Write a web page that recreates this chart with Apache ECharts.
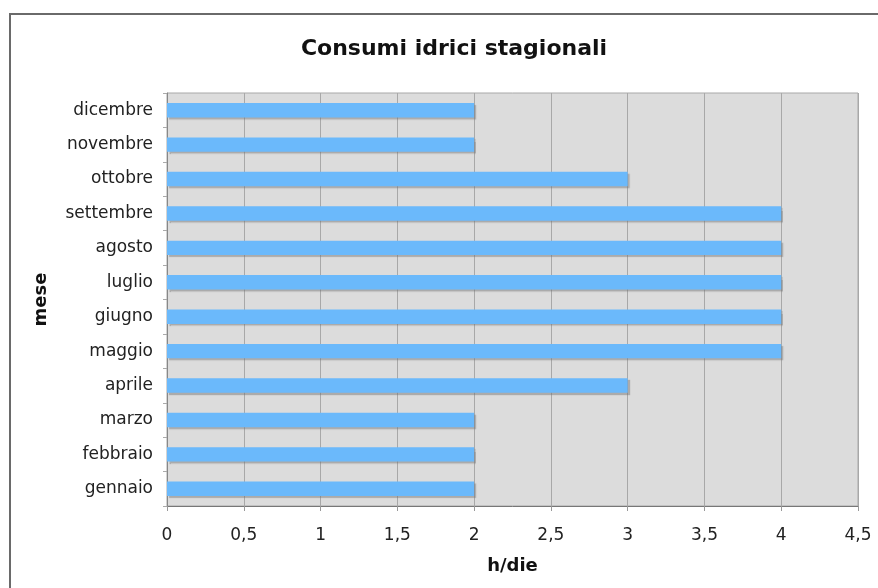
<!DOCTYPE html>
<html>
<head>
<meta charset="utf-8">
<script src="https://cdn.jsdelivr.net/npm/echarts@6/dist/echarts.min.js"></script>
<style>
  html, body { margin: 0; padding: 0; background: #fff; overflow: hidden; }
  .frame { position: absolute; left: 0; top: 0; width: 878px; height: 588px; }
  .box { position: absolute; left: 9px; top: 13px; width: 900px; height: 600px; border: 2px solid #6a6a6a; box-sizing: border-box; }
  #chart { position: absolute; left: 0; top: 0; width: 878px; height: 588px; }
</style>
</head>
<body>
<div class="frame">
  <div class="box"></div>
  <div id="chart"></div>
</div>
<script>
// mesi dal basso verso l'alto
const mesi = ['gennaio', 'febbraio', 'marzo', 'aprile', 'maggio', 'giugno',
  'luglio', 'agosto', 'settembre', 'ottobre', 'novembre', 'dicembre'];
const oreDie = [2, 2, 2, 3, 4, 4, 4, 4, 4, 3, 2, 2];
const xMin = 0, xMax = 4.5, xStep = 0.5;

const chart = echarts.init(document.getElementById('chart'));

const option = {
  animation: false,
  title: {
    text: 'Consumi idrici stagionali',
    left: 449,
    top: 33,
    textAlign: 'center',
    textStyle: { fontFamily: 'DejaVu Sans', fontWeight: 'bold', fontSize: 22, color: '#111' }
  },
  grid: {
    left: 167,
    right: 20,
    top: 93,
    bottom: 82,
    show: true,
    backgroundColor: '#dcdcdc',
    borderColor: '#a8a8a8',
    borderWidth: 1
  },
  xAxis: {
    type: 'value',
    min: xMin,
    max: xMax,
    interval: xStep,
    name: 'h/die',
    nameLocation: 'middle',
    nameGap: 51,
    nameTextStyle: { fontFamily: 'DejaVu Sans', fontWeight: 'bold', fontSize: 18, color: '#111' },
    axisLine: { show: true, lineStyle: { color: '#777', width: 1 } },
    axisTick: { show: true, length: 5, lineStyle: { color: '#999' } },
    axisLabel: {
      margin: 21,
      fontFamily: 'DejaVu Sans',
      fontSize: 17,
      color: '#222',
      formatter: v => String(v).replace('.', ',')
    },
    splitLine: { show: true, lineStyle: { color: '#a8a8a8', width: 1 } }
  },
  yAxis: {
    type: 'category',
    data: mesi,
    name: 'mese',
    nameLocation: 'middle',
    nameRotate: 90,
    nameGap: 117,
    nameTextStyle: { fontFamily: 'DejaVu Sans', fontWeight: 'bold', fontSize: 18, color: '#111' },
    axisLine: { show: true, lineStyle: { color: '#888' } },
    axisTick: { show: true, length: 4, lineStyle: { color: '#aaa' } },
    axisLabel: { margin: 14, fontFamily: 'DejaVu Sans', fontSize: 17, color: '#222' },
    splitLine: { show: false }
  },
  series: [{
    type: 'bar',
    data: oreDie,
    barWidth: '42%',
    itemStyle: {
      color: '#6bb9fb',
      shadowColor: 'rgba(110,110,110,0.45)',
      shadowOffsetX: 2,
      shadowOffsetY: 2,
      shadowBlur: 1
    },
    emphasis: { disabled: true }
  }]
};

chart.setOption(option);
</script>
</body>
</html>
